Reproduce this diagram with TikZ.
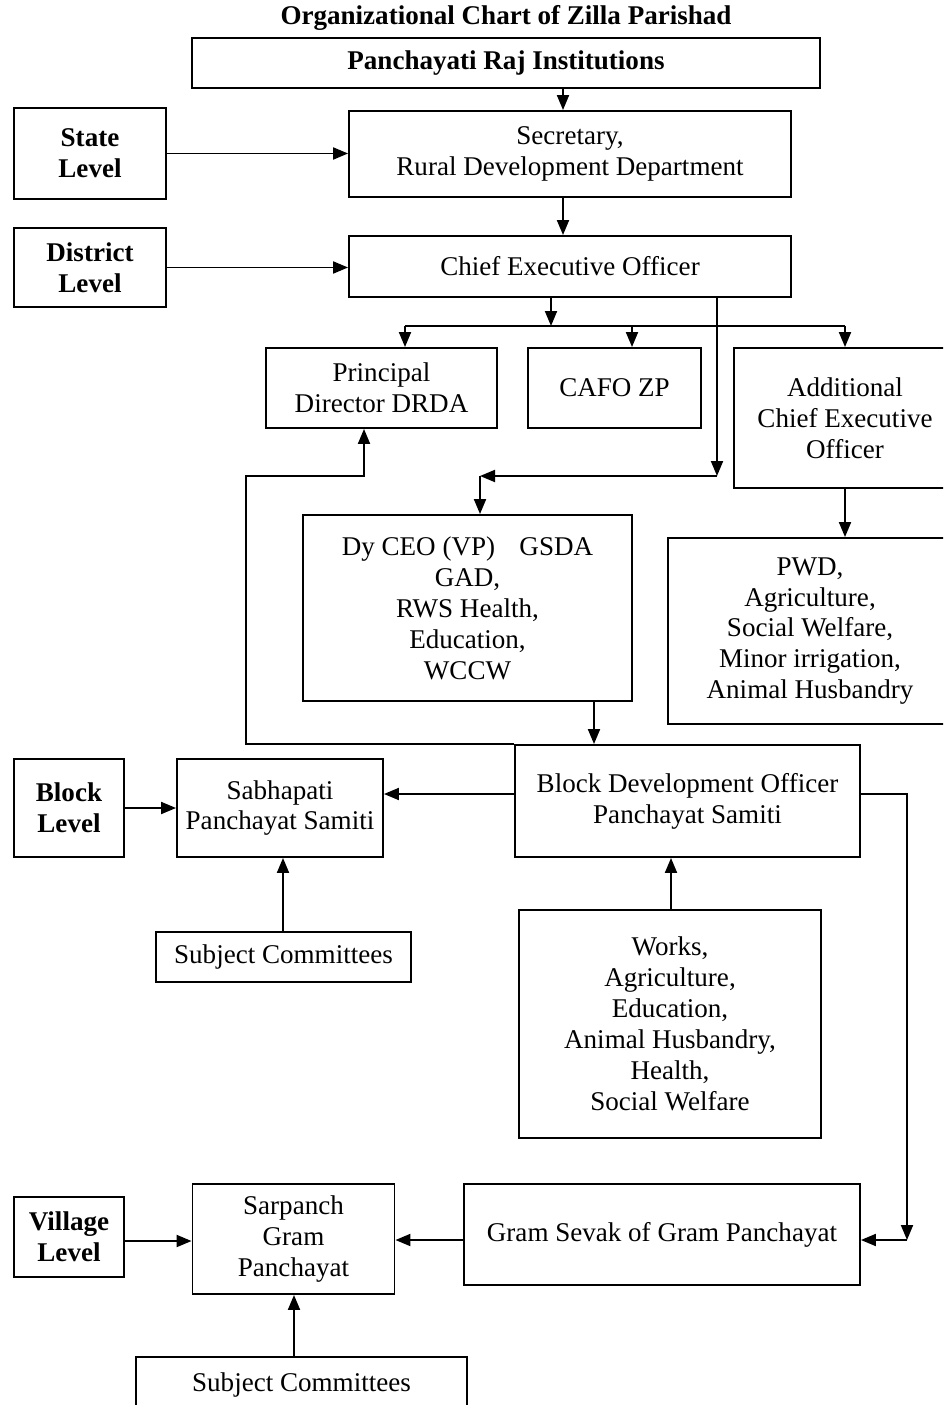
\documentclass[tikz,border=0pt]{standalone}
\usepackage{fontspec}
\setmainfont{Liberation Serif}
\usetikzlibrary{arrows.meta}

\begin{document}
\begin{tikzpicture}[x=0.02cm, y=-0.02cm,
  every node/.style={inner sep=0pt, font=\fontsize{15.4}{17.6}\selectfont},
  box/.style={draw, line width=1.1pt, align=center},
  lvl/.style={box, font=\fontsize{15.4}{17.6}\selectfont\bfseries},
  arr/.style={line width=1.1pt, -{Triangle[length=0.3cm, width=0.24cm]}}]
  \useasboundingbox (0,0) rectangle (943,1405);
  \clip (0,0) rectangle (943,1405);

  \node[font=\fontsize{15.4}{17.6}\selectfont\bfseries] (title) at (506,18) {Organizational Chart of Zilla Parishad};
  \node[lvl, minimum width=12.56cm, minimum height=1cm] (pri) at (506,63) {Panchayati Raj Institutions};
  \node[lvl, minimum width=3.04cm, minimum height=1.82cm] (state) at (90,153.5) {State\\Level};
  \node[box, minimum width=8.84cm, minimum height=1.72cm] (sec) at (570,154) {Secretary,\\Rural Development Department};
  \node[lvl, minimum width=3.04cm, minimum height=1.58cm] (district) at (90,267.5) {District\\Level};
  \node[box, minimum width=8.84cm, minimum height=1.22cm] (ceo) at (570,266.5) {Chief Executive Officer};
  \node[box, minimum width=4.62cm, minimum height=1.6cm] (pdd) at (381.5,388) {Principal\\Director DRDA};
  \node[box, minimum width=3.46cm, minimum height=1.6cm] (cafo) at (614.5,388) {CAFO ZP};
  \node[box, minimum width=4.44cm, minimum height=2.8cm] (addl) at (845,418) {Additional\\Chief Executive\\Officer};
  \node[box, minimum width=6.58cm, minimum height=3.72cm] (dyceo) at (467.5,608) {Dy CEO (VP)\hspace{0.9em}GSDA\\GAD,\\RWS Health,\\Education,\\WCCW};
  \node[box, minimum width=5.68cm, minimum height=3.72cm] (pwd) at (810,631) {PWD,\\Agriculture,\\Social Welfare,\\Minor irrigation,\\Animal Husbandry};
  \node[box, minimum width=6.9cm, minimum height=2.24cm] (bdo) at (687.5,801) {Block Development Officer\\Panchayat Samiti};
  \node[box, minimum width=4.12cm, minimum height=1.96cm] (sabha) at (280,808) {Sabhapati\\Panchayat Samiti};
  \node[lvl, minimum width=2.2cm, minimum height=1.96cm] (block) at (69,808) {Block\\Level};
  \node[box, minimum width=5.1cm, minimum height=1cm] (sc1) at (283.5,957) {Subject Committees};
  \node[box, minimum width=6.04cm, minimum height=4.56cm] (works) at (670,1024) {Works,\\Agriculture,\\Education,\\Animal Husbandry,\\Health,\\Social Welfare};
  \node[box, minimum width=7.92cm, minimum height=2.02cm] (gsevak) at (662,1234.5) {Gram Sevak of Gram Panchayat};
  \node[box, minimum width=4.04cm, minimum height=2.2cm] (sarpanch) at (293.5,1239) {Sarpanch\\Gram\\Panchayat};
  \node[lvl, minimum width=2.2cm, minimum height=1.6cm] (village) at (69,1237) {Village\\Level};
  \node[box, minimum width=6.62cm, minimum height=1.12cm] (sc2) at (301.5,1385) {Subject Committees};

  % state and district level
  \draw[arr] (563,0 |- pri.south) -- (563,0 |- sec.north);
  \draw[arr] (state.east) -- (sec.west |- state.east);
  \draw[arr] (563,0 |- sec.south) -- (563,0 |- ceo.north);
  \draw[arr] (district.east) -- (ceo.west |- district.east);
  % branches below the CEO
  \draw[arr] (551,0 |- ceo.south) -- (551,326);
  \draw[line width=1.1pt] (405,326) -- (845,326);
  \draw[arr] (405,326) -- (405,0 |- pdd.north);
  \draw[arr] (632,326) -- (632,0 |- cafo.north);
  \draw[arr] (845,326) -- (addl.north);
  \draw[arr] (717,0 |- ceo.south) -- (717,476);
  \draw[arr] (717,476) -- (480,476);
  \draw[arr] (480,476) -- (480,0 |- dyceo.north);
  \draw[arr] (addl.south) -- (addl.south |- pwd.north);
  \draw[arr] (594,0 |- dyceo.south) -- (594,0 |- bdo.north);
  \draw[arr] (bdo.north west) -- (246,0 |- bdo.north west) -- (246,476) -| (364,0 |- pdd.south);
  % block level
  \draw[arr] (bdo.west |- 0,794) -- (sabha.east |- 0,794);
  \draw[arr] (block.east) -- (sabha.west |- block.east);
  \draw[arr] (283,0 |- sc1.north) -- (283,0 |- sabha.south);
  \draw[arr] (671,0 |- works.north) -- (671,0 |- bdo.south);
  \draw[arr] (bdo.east |- 0,794) -- (907,794) -- (907,1240);
  % village level
  \draw[arr] (907,1240) -- (gsevak.east |- 0,1240);
  \draw[arr] (gsevak.west |- 0,1240) -- (sarpanch.east |- 0,1240);
  \draw[arr] (village.east |- 0,1241) -- (sarpanch.west |- 0,1241);
  \draw[arr] (294,0 |- sc2.north) -- (294,0 |- sarpanch.south);
\end{tikzpicture}
\end{document}
